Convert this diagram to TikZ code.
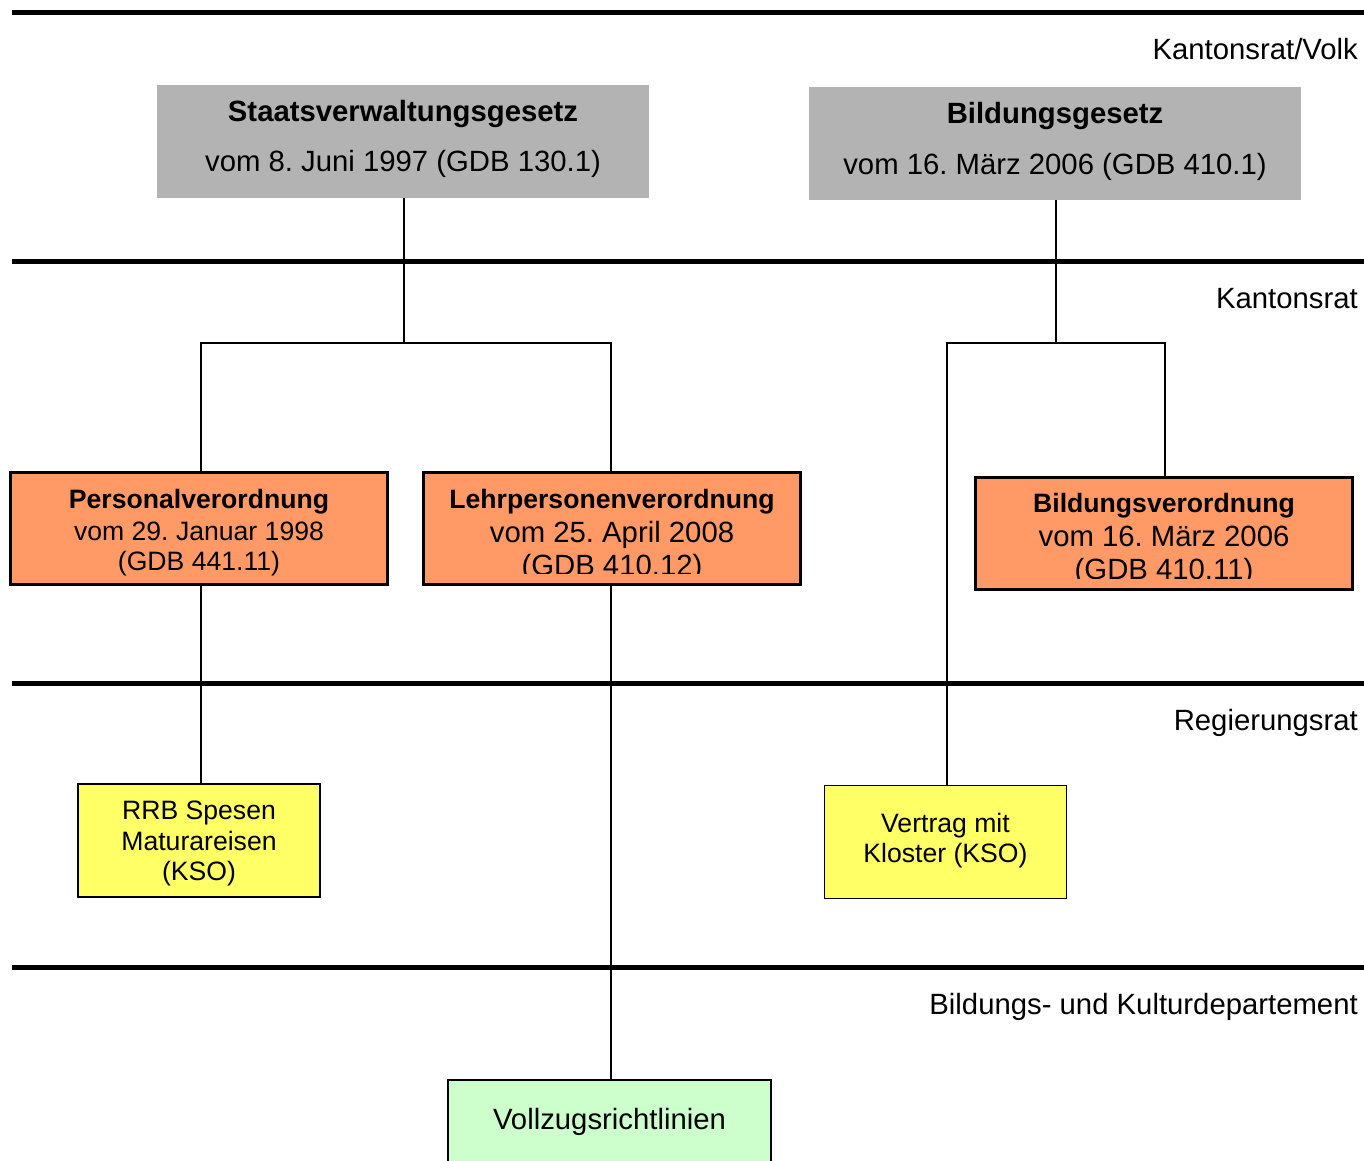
\documentclass[tikz,border=0pt]{standalone}
\usepackage{fontspec}
\setmainfont{Liberation Sans}
\definecolor{grayfill}{HTML}{B3B3B3}
\definecolor{orangefill}{HTML}{FF9966}
\definecolor{yellowfill}{HTML}{FFFF66}
\definecolor{greenfill}{HTML}{CCFFCC}
\newcommand{\bigf}{\fontsize{29.3}{34}\selectfont\frenchspacing}
\newcommand{\smallf}{\fontsize{26.6}{31}\selectfont\frenchspacing}
\tikzset{
  rule/.style={line width=5pt},
  conn/.style={line width=1.5pt},
  graybox/.style={fill=grayfill, draw=none, minimum width=492pt, minimum height=113pt, inner sep=0pt},
  orangebox/.style={fill=orangefill, draw=black, line width=3pt, minimum width=377pt, minimum height=112pt, inner sep=0pt},
  yellowbox/.style={fill=yellowfill, draw=black, line width=1.5pt, minimum width=242pt, minimum height=113pt, inner sep=0pt},
  greenbox/.style={fill=greenfill, draw=black, line width=1.5pt, minimum width=323pt, minimum height=120pt, inner sep=0pt},
  bigline/.style={anchor=base, inner sep=0pt, font=\bigf},
  smallline/.style={anchor=base, inner sep=0pt, font=\smallf},
  level/.style={anchor=base east, inner sep=0pt, font=\bigf},
}
\begin{document}
\begin{tikzpicture}[x=1pt,y=-1pt]
\clip (0,0) rectangle (1364,1160);
\fill[white] (0,0) rectangle (1364,1160);

% level rules
\draw[rule] (12,12) -- (1364,12);
\draw[rule] (12,261) -- (1364,261);
\draw[rule] (12,683) -- (1364,683);
\draw[rule] (12,967) -- (1364,967);

% level labels
\node[level] (l1) at (1358,59.5) {Kantonsrat/Volk};
\node[level] (l2) at (1358,308.5) {Kantonsrat};
\node[level] (l3) at (1358,730.5) {Regierungsrat};
\node[level] (l4) at (1358,1014.5) {Bildungs- und Kulturdepartement};

% gray boxes
\node[graybox] (sv) at (403,141.5) {};
\node[bigline] (sv1) at (403,121.5) {\textbf{Staatsverwaltungsgesetz}};
\node[bigline] (sv2) at (403,171.5) {vom 8. Juni 1997 (GDB 130.1)};
\node[graybox] (bg) at (1055,143.5) {};
\node[bigline] (bg1) at (1055,123.5) {\textbf{Bildungsgesetz}};
\node[bigline] (bg2) at (1055,174.5) {vom 16. März 2006 (GDB 410.1)};

% orange boxes
\node[orangebox] (pv) at (199,528.5) {};
\node[smallline] (pv1) at (199,508.6) {\textbf{Personalverordnung}};
\node[smallline] (pv2) at (199,540.6) {vom 29. Januar 1998};
\node[smallline] (pv3) at (199,570.6) {(GDB 441.11)};

\node[orangebox] (lp) at (612,528.5) {};
\node[smallline] (lp1) at (612,508.6) {\textbf{Lehrpersonenverordnung}};
\node[bigline] (lp2) at (612,542.5) {vom 25. April 2008};
\begin{scope}
\clip (424,473) rectangle (800,573);
\node[bigline] (lp3) at (612,575.5) {(GDB 410.12)};
\end{scope}

\node[orangebox] (bv) at (1164,533) {};
\node[smallline] (bv1) at (1164,512.6) {\textbf{Bildungsverordnung}};
\node[bigline] (bv2) at (1164,546.5) {vom 16. März 2006};
\begin{scope}
\clip (976,478) rectangle (1352,578);
\node[bigline] (bv3) at (1164,579.5) {(GDB 410.11)};
\end{scope}

% yellow boxes
\node[yellowbox] (rrb) at (199,840.5) {};
\node[smallline] (rrb1) at (199,819.6) {RRB Spesen};
\node[smallline] (rrb2) at (199,850.6) {Maturareisen};
\node[smallline] (rrb3) at (199,880.6) {(KSO)};
\node[yellowbox] (vt) at (945.5,842) {};
\node[smallline] (vt1) at (945.5,832.6) {Vertrag mit};
\node[smallline] (vt2) at (945.5,862.6) {Kloster (KSO)};

% green box
\node[greenbox] (vz) at (609.5,1140) {};
\node[bigline] (vz1) at (609.5,1129.5) {Vollzugsrichtlinien};

% connectors
\coordinate (j1) at (404,343);
\coordinate (j2) at (1056,343);
\draw[conn] (sv.south -| j1) -- (j1);
\draw[conn] (201,471) |- (j1) -| (611,471);
\draw[conn] (bg.south -| j2) -- (j2);
\draw[conn] (947,785) |- (j2) -| (1165,476);
\draw[conn] (201,586) -- (201,784);
\draw[conn] (611,586) -- (611,1080);
\end{tikzpicture}
\end{document}
